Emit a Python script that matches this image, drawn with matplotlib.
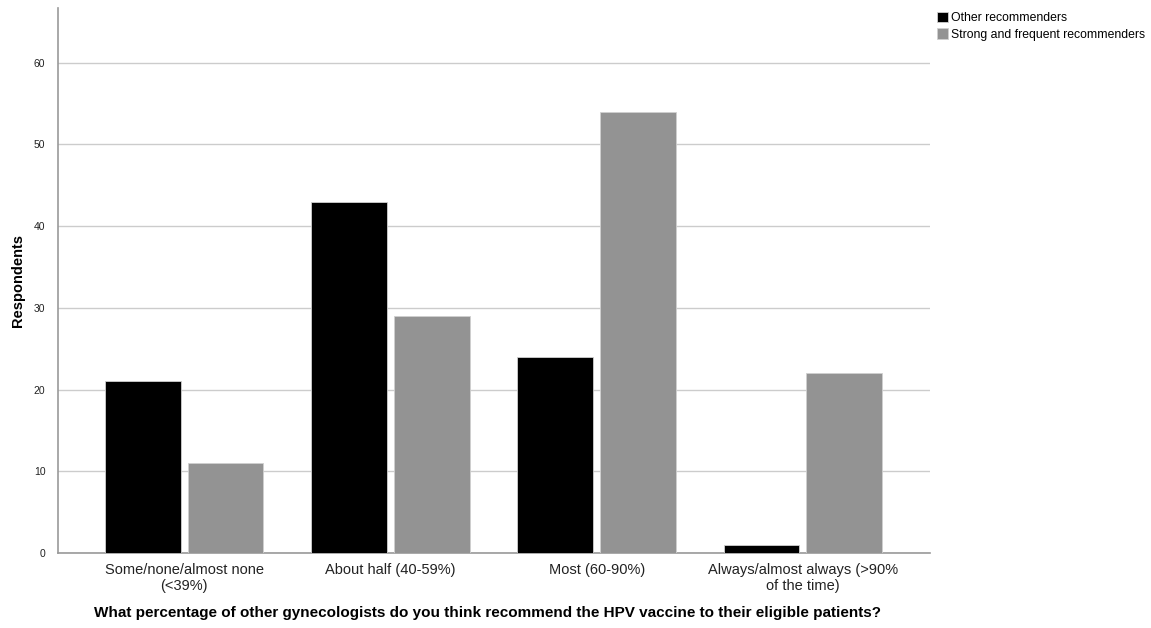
import matplotlib
matplotlib.use("Agg")
import matplotlib.pyplot as plt
import numpy as np

categories = [
    "Some/none/almost none\n(<39%)",
    "About half (40-59%)",
    "Most (60-90%)",
    "Always/almost always (>90%\nof the time)",
]
other_recommenders = [21, 43, 24, 1]
strong_recommenders = [11, 29, 54, 22]
series_labels = ["Other recommenders", "Strong and frequent recommenders"]
y_ticks = [0, 10, 20, 30, 40, 50, 60]

plt.rcParams["font.family"] = ["Liberation Sans", "DejaVu Sans"]

fig = plt.figure(figsize=(11.51, 6.28), dpi=100)
ax = fig.add_axes([58 / 1151, 1 - 553 / 628, 872 / 1151, 545 / 628])

x = np.arange(len(categories))
width = 0.368
offset = 0.201

ax.bar(x - offset, other_recommenders, width, color="#000000",
       edgecolor="#d0d0d0", linewidth=0.6, label=series_labels[0], zorder=3)
ax.bar(x + offset, strong_recommenders, width, color="#939393",
       edgecolor="#d0d0d0", linewidth=0.6, label=series_labels[1], zorder=3)

ax.set_xlim(-0.611, 3.616)
ax.set_ylim(0, 66.7)
ax.set_yticks(y_ticks)
ax.set_xticks(x)
ax.set_xticklabels(categories, fontsize=10.5, color="#222222")
ax.tick_params(axis="both", length=0)
ax.tick_params(axis="y", labelsize=7.5, pad=9, labelcolor="#222222")
ax.tick_params(axis="x", pad=7)

ax.grid(axis="y", color="#cccccc", linewidth=1, zorder=0)
for side in ["top", "right"]:
    ax.spines[side].set_visible(False)
for side in ["left", "bottom"]:
    ax.spines[side].set_color("#999999")
    ax.spines[side].set_linewidth(1.2)

ax.set_ylabel("Respondents", fontsize=10.5, fontweight="bold")
ax.yaxis.set_label_coords(-33 / 872, 0.5)
fig.text(488 / 1151, 1 - 613 / 628,
         "What percentage of other gynecologists do you think recommend the HPV vaccine to their eligible patients?",
         ha="center", va="center", fontsize=11, fontweight="bold")

leg = ax.legend(loc="upper left", bbox_to_anchor=(1.002, 1.002), frameon=False,
                fontsize=8.8, handlelength=0.9, handleheight=0.9,
                handletextpad=0.3, labelspacing=0.35, borderaxespad=0)

fig.savefig("out.png", dpi=100)
